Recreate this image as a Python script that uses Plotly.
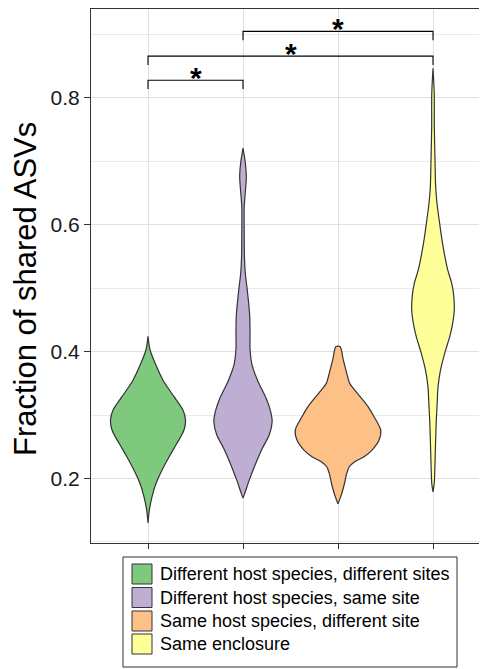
import plotly.graph_objects as go

# ---------------- data ----------------
categories = ["Different host species, different sites",
              "Different host species, same site",
              "Same host species, different site",
              "Same enclosure"]
positions = [1, 2, 3, 4]
fill_colors = ["#7FC97F", "#BEAED4", "#FDC086", "#FFFF99"]

# violin profiles: y level and half-width (in category units)
green_y = [0.130, 0.150, 0.171, 0.192, 0.213, 0.234, 0.2555, 0.2765, 0.292, 0.308, 0.329, 0.355, 0.382, 0.403, 0.424]
green_hw = [0.0, 0.014, 0.042, 0.084, 0.147, 0.221, 0.305, 0.379, 0.395, 0.368, 0.274, 0.158, 0.074, 0.021, 0.0]

purple_y = [0.169, 0.179, 0.195, 0.221, 0.248, 0.269, 0.290, 0.305, 0.326, 0.353, 0.379, 0.405, 0.430, 0.455,
            0.471, 0.497, 0.524, 0.550, 0.576, 0.603, 0.629, 0.655, 0.676, 0.702, 0.712, 0.721]
purple_hw = [0.0, 0.024, 0.060, 0.126, 0.205, 0.277, 0.307, 0.292, 0.245, 0.158, 0.095, 0.074, 0.074, 0.071,
             0.063, 0.045, 0.024, 0.015, 0.013, 0.012, 0.013, 0.026, 0.035, 0.021, 0.010, 0.0]

orange_y = [0.160, 0.171, 0.187, 0.208, 0.2185, 0.2264, 0.2343, 0.2448, 0.2606, 0.2764, 0.2974, 0.3132,
            0.3237, 0.3395, 0.350, 0.3658, 0.3869, 0.408]
orange_hw = [0.0, 0.028, 0.060, 0.092, 0.119, 0.176, 0.274, 0.358, 0.432, 0.450, 0.379, 0.316,
             0.263, 0.176, 0.123, 0.092, 0.056, 0.021]

yellow_y = [0.179, 0.1924, 0.2134, 0.2397, 0.266, 0.2922, 0.3186, 0.3448, 0.371, 0.3974, 0.4236, 0.4447,
            0.4657, 0.4867, 0.5078, 0.5288, 0.571, 0.6076, 0.634, 0.660, 0.702, 0.7548, 0.8074, 0.847]
yellow_hw = [0.0, 0.013, 0.019, 0.024, 0.029, 0.035, 0.044, 0.053, 0.079, 0.123, 0.176, 0.207,
             0.224, 0.219, 0.197, 0.155, 0.100, 0.065, 0.042, 0.028, 0.021, 0.014, 0.013, 0.0]

profiles_y = [green_y, purple_y, orange_y, yellow_y]
profiles_hw = [green_hw, purple_hw, orange_hw, yellow_hw]

# significance comparisons
comp_left = [1, 1, 2]
comp_right = [2, 4, 4]
comp_y = [0.828, 0.866, 0.905]
comp_label = ["*", "*", "*"]
tip_len = 0.014

y_ticks = [0.2, 0.4, 0.6, 0.8]
y_title = "Fraction of shared ASVs"

# ---------------- figure ----------------
OFF = 8  # page body margin
W, H = 487 - OFF, 669 - OFF
ML, MR, MT, MB = 91 - OFF, 0, 9 - OFF, 126
PW, PH = W - ML - MR, H - MT - MB
FONT = "Liberation Sans, Arial, Helvetica, sans-serif"
OUTLINE = "#333333"


def px_x(px):
    return (px - OFF - ML) / PW


def px_y(py):
    return (H - MB - (py - OFF)) / PH


fig = go.Figure()

for pos, col, ys, hws in zip(positions, fill_colors, profiles_y, profiles_hw):
    xs = [pos + w for w in hws] + [pos - w for w in reversed(hws)] + [pos + hws[0]]
    yy = list(ys) + list(reversed(ys)) + [ys[0]]
    fig.add_trace(go.Scatter(x=xs, y=yy, mode="lines", fill="toself", fillcolor=col,
                             line=dict(color=OUTLINE, width=1.2, shape="spline", smoothing=0.8),
                             hoverinfo="skip", showlegend=False))

for xl, xr, yv, lab in zip(comp_left, comp_right, comp_y, comp_label):
    fig.add_trace(go.Scatter(x=[xl, xl, xr, xr], y=[yv - tip_len, yv, yv, yv - tip_len],
                             mode="lines", line=dict(color="black", width=1.1),
                             hoverinfo="skip", showlegend=False))
    fig.add_annotation(x=(xl + xr) / 2, y=yv, xref="x", yref="y", text="<b>%s</b>" % lab,
                       showarrow=False, yanchor="middle", yshift=3,
                       font=dict(family=FONT, size=30, color="black"))

fig.update_layout(
    width=W, height=H,
    margin=dict(l=ML, r=MR, t=MT, b=MB, pad=0),
    paper_bgcolor="white", plot_bgcolor="white",
    font=dict(family=FONT, color="black"),
    showlegend=False,
)

fig.update_xaxes(range=[0.4, 0.4 + PW / 95.0], tickmode="array", tickvals=positions, showticklabels=False,
                 ticks="outside", ticklen=5, tickcolor=OUTLINE, tickwidth=1,
                 showgrid=True, gridcolor="#E0E0E0", gridwidth=1,
                 showline=True, linecolor=OUTLINE, linewidth=1.2, mirror=True, zeroline=False)
fig.update_yaxes(range=[0.0983, 0.9403], tickmode="array", tickvals=y_ticks, tickformat=".1f",
                 ticks="outside", ticklen=6, tickcolor=OUTLINE, tickwidth=1,
                 tickfont=dict(family=FONT, size=21, color="#1a1a1a"),
                 showgrid=True, gridcolor="#E0E0E0", gridwidth=1,
                 minor=dict(dtick=0.1, tick0=0.1, showgrid=True, gridcolor="#EAEAEA", gridwidth=0.8),
                 showline=True, linecolor=OUTLINE, linewidth=1.2, mirror=False, zeroline=False)

# y-axis title
fig.add_annotation(x=px_x(25.5), y=px_y(289.5), xref="paper", yref="paper", text=y_title,
                   textangle=-90, showarrow=False, xanchor="center", yanchor="middle",
                   font=dict(family=FONT, size=31, color="black"))

# legend (box, swatches, labels)
fig.add_shape(type="rect", xref="paper", yref="paper", x0=px_x(123), x1=px_x(457),
              y0=px_y(667), y1=px_y(557), line=dict(color=OUTLINE, width=1), fillcolor="white")
row_centers = [574, 597.5, 621, 644]
for cat, col, rc in zip(categories, fill_colors, row_centers):
    fig.add_shape(type="rect", xref="paper", yref="paper", x0=px_x(132), x1=px_x(152),
                  y0=px_y(rc + 10), y1=px_y(rc - 10), line=dict(color=OUTLINE, width=1), fillcolor=col)
    fig.add_annotation(x=px_x(158), y=px_y(rc), xref="paper", yref="paper", text=cat,
                       showarrow=False, xanchor="left", yanchor="middle",
                       font=dict(family=FONT, size=18, color="black"))

fig.write_html("out.html")
